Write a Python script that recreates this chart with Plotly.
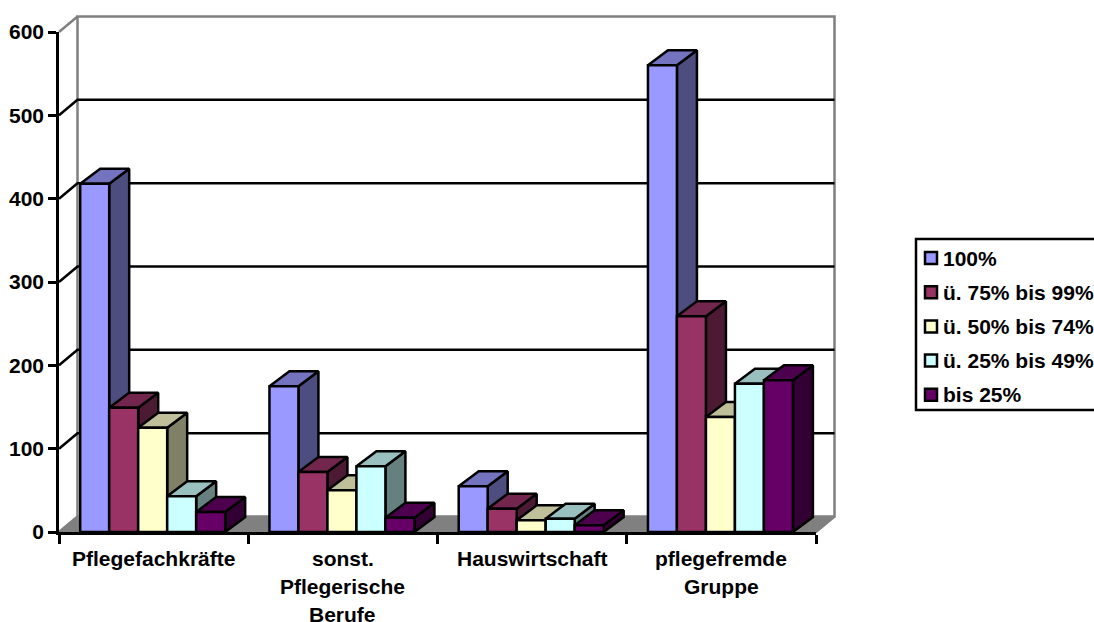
import plotly.graph_objects as go

categories = ["Pflegefachkräfte", "sonst.<br>Pflegerische<br>Berufe", "Hauswirtschaft", "pflegefremde<br>Gruppe"]
group_pos = [0.495, 1.495, 2.495, 3.495]
series_names = ["100%", "ü. 75% bis 99%", "ü. 50% bis 74%", "ü. 25% bis 49%", "bis 25%"]
s_100 = [418, 175, 55, 560]
s_75 = [149, 72, 28, 259]
s_50 = [125, 50, 14, 138]
s_25 = [43, 79, 16, 178]
s_0 = [24, 17, 8, 182]
y_ticks = [0, 100, 200, 300, 400, 500, 600]

all_series = [s_100, s_75, s_50, s_25, s_0]
front = ["#9999FF", "#993366", "#FFFFCC", "#CCFFFF", "#660066"]
top = ["#7373BF", "#73264D", "#BFBF99", "#99BFBF", "#4D004D"]
side = ["#4D4D80", "#4D1A33", "#808066", "#668080", "#330033"]

W, H = 1094, 622
L, R, B, T = 59, 816, 532, 32
ux = (R - L) / 4          # px per category
uy = (B - T) / 600        # px per value unit
wall_dx, wall_dy = 18.5 / ux, 15.5 / uy
bar_dx, bar_dy = 20 / ux, 15 / uy
GAP = 0.234
bar_w = (1 - GAP) / 5
FONT = "Liberation Sans"
FS = 21
LW = 2.5
GRAY = "#808080"

fig = go.Figure()


def poly(xs, ys, fill, line="black", lw=LW):
    fig.add_trace(go.Scatter(x=xs, y=ys, mode="lines", fill="toself", fillcolor=fill,
                             line=dict(color=line, width=lw),
                             showlegend=False, hoverinfo="skip"))


def seg(xs, ys, color="black", lw=LW):
    fig.add_trace(go.Scatter(x=xs, y=ys, mode="lines", line=dict(color=color, width=lw),
                             showlegend=False, hoverinfo="skip"))


# walls and floor
poly([0, 4, 4 + wall_dx, wall_dx, 0], [0, 0, wall_dy, wall_dy, 0], GRAY, GRAY)
poly([wall_dx, 4 + wall_dx, 4 + wall_dx, wall_dx, wall_dx],
     [wall_dy, wall_dy, 600 + wall_dy, 600 + wall_dy, wall_dy], "white", GRAY)
seg([0, wall_dx], [600, 600 + wall_dy], GRAY)
for v in y_ticks[1:-1]:
    seg([0, wall_dx, 4 + wall_dx], [v, v + wall_dy, v + wall_dy])

# side and top faces, left to right
for c, pos in enumerate(group_pos):
    for i, vals in enumerate(all_series):
        v = vals[c]
        x0 = pos - (1 - GAP) / 2 + i * bar_w
        x1 = x0 + bar_w
        poly([x1, x1 + bar_dx, x1 + bar_dx, x1, x1], [0, bar_dy, v + bar_dy, v, 0], side[i])
        poly([x0, x1, x1 + bar_dx, x0 + bar_dx, x0], [v, v, v + bar_dy, v + bar_dy, v], top[i])

# front faces
for i, vals in enumerate(all_series):
    fig.add_trace(go.Bar(x=group_pos, y=vals, name=series_names[i],
                         marker=dict(color=front[i], line=dict(color="black", width=LW)),
                         xaxis="x2", yaxis="y2", showlegend=False))


def px(x):
    return x / W


def py(y):
    return 1 - y / H


font = dict(family=FONT, size=FS, color="black", weight="bold")
annotations = []
for c, label in enumerate(categories):
    for j, line in enumerate(label.split("<br>")):
        annotations.append(dict(x=c + 0.5, xref="x2", y=py(558.5 + 27.8 * j), yref="paper", text=line,
                                showarrow=False, xanchor="center", yanchor="middle", font=font))

# legend box
shapes = [dict(type="rect", xref="paper", yref="paper", x0=px(916), x1=px(1110), y0=py(239), y1=py(410),
               line=dict(color="black", width=LW), fillcolor="white", layer="above")]
for i, name in enumerate(series_names):
    yc = 258 + 34.2 * i
    shapes.append(dict(type="rect", xref="paper", yref="paper", x0=px(925), x1=px(937), y0=py(yc - 6), y1=py(yc + 6),
                       line=dict(color="black", width=LW), fillcolor=front[i], layer="above"))
    annotations.append(dict(x=px(943), xref="paper", y=py(yc), yref="paper", text=name, showarrow=False,
                            xanchor="left", yanchor="middle", xshift=-2, font=font))

fig.update_layout(
    width=W, height=H, autosize=False, margin=dict(l=0, r=0, t=0, b=0),
    paper_bgcolor="white", plot_bgcolor="rgba(0,0,0,0)", showlegend=False,
    barmode="group", bargap=GAP, bargroupgap=0,
    font=dict(family=FONT, color="black"),
    annotations=annotations, shapes=shapes,
    # full-canvas hidden axes carrying the depth faces, same scale as the visible axes
    xaxis=dict(domain=[0, 1], range=[-L / ux, (W - L) / ux], visible=False, automargin=False, anchor="y"),
    yaxis=dict(domain=[0, 1], range=[-(H - B) / uy, B / uy], visible=False, automargin=False, anchor="x"),
    xaxis2=dict(domain=[L / W, R / W], range=[0, 4], anchor="y2", tickmode="array", tickvals=[0, 1, 2, 3, 4],
                ticktext=["", "", "", "", ""], ticks="outside", ticklen=9, tickwidth=LW, tickcolor="black",
                showline=True, linecolor="black", linewidth=LW, showgrid=False, zeroline=False, automargin=False),
    yaxis2=dict(domain=[1 - B / H, 1 - T / H], range=[0, 600], anchor="x2", tickmode="array", tickvals=y_ticks,
                ticks="outside", ticklen=8, tickwidth=LW, tickcolor="black",
                showline=True, linecolor="black", linewidth=LW, showgrid=False, zeroline=False,
                tickfont=font, automargin=False),
)

fig.write_html("out.html", config=dict(displayModeBar=False),
               post_script="document.body.style.margin='0';document.body.style.overflow='hidden';")
